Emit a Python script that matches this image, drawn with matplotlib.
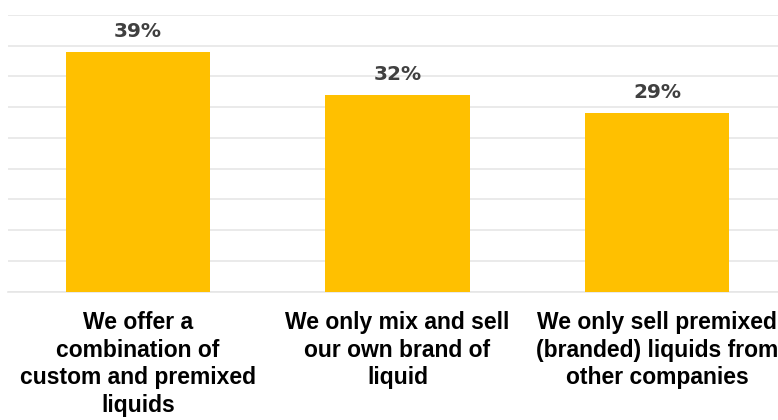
import matplotlib
matplotlib.use("Agg")
import matplotlib.pyplot as plt
from matplotlib import font_manager

categories = [
    "We offer a\ncombination of\ncustom and premixed\nliquids",
    "We only mix and sell\nour own brand of\nliquid",
    "We only sell premixed\n(branded) liquids from\nother companies",
]
values = [39, 32, 29]
value_labels = ["39%", "32%", "29%"]

names = {f.name for f in font_manager.fontManager.ttflist}
cat_font = "Liberation Sans" if "Liberation Sans" in names else "DejaVu Sans"

fig = plt.figure(figsize=(7.78, 4.20), dpi=100)
# axes spans slightly beyond right edge like the reference
ax = fig.add_axes([8 / 778, 1 - 291.5 / 420, 779 / 778, (291.5 - 15) / 420])
x = range(len(values))
bars = ax.bar(x, values, width=0.556, color="#FFC000", zorder=3)
ax.set_xlim(-0.5, 2.5)
ax.set_ylim(0, 45)
ax.set_yticks(range(0, 46, 5))
ax.yaxis.grid(True, color="#E6E6E6", linewidth=1.2, zorder=0)
ax.tick_params(axis="y", length=0, labelleft=False)
ax.tick_params(axis="x", length=0, pad=14)
for s in ["top", "right", "left"]:
    ax.spines[s].set_visible(False)
ax.spines["bottom"].set_color("#E6E6E6")
ax.spines["bottom"].set_linewidth(1.2)
ax.set_xticks(list(x))
ax.set_xticklabels(categories, fontsize=16.5, fontweight="bold", family=cat_font,
                   linespacing=1.26, color="#000000", va="top")
for b, lab in zip(bars, value_labels):
    ax.annotate(lab, (b.get_x() + b.get_width() / 2, b.get_height()),
                xytext=(0, 8), textcoords="offset points", ha="center", va="bottom",
                fontsize=14.5, fontweight="bold", color="#404040")

fig.savefig("out.png", dpi=100)
